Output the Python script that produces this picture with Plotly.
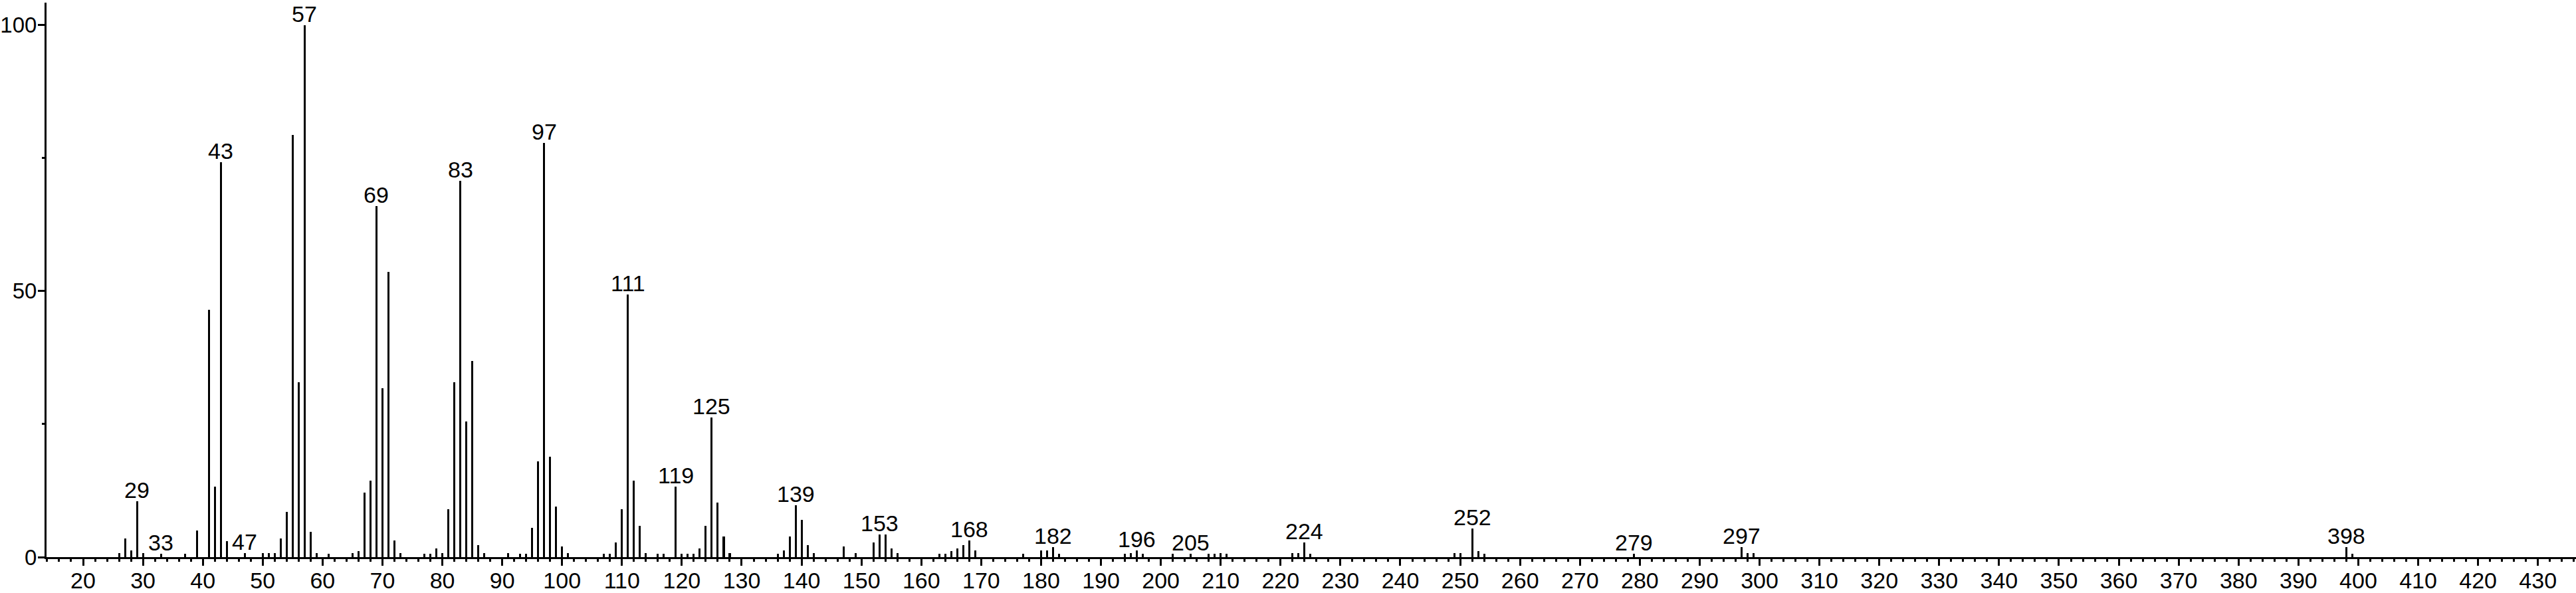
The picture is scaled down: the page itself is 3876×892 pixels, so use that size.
import plotly.graph_objects as go

mz = [26, 27, 28, 29, 30, 33, 37, 39, 41, 42, 43, 44, 47, 50, 51, 52, 53, 54, 55, 56, 57, 58, 59, 61,
      65, 66, 67, 68, 69, 70, 71, 72, 73, 77, 78, 79, 80, 81, 82, 83, 84, 85, 86, 87, 91, 93, 94,
      95, 96, 97, 98, 99, 100, 101, 107, 108, 109, 110, 111, 112, 113, 114, 116, 117, 119, 120,
      121, 122, 123, 124, 125, 126, 127, 128, 136, 137, 138, 139, 140, 141, 142, 147, 149, 152,
      153, 154, 155, 156, 163, 164, 165, 166, 167, 168, 169, 177, 180, 181, 182, 183, 194, 195,
      196, 197, 202, 205, 208, 209, 210, 211, 222, 223, 224, 225, 249, 250, 252, 253, 254, 279,
      297, 298, 299, 398, 399]
intensity = [0.7, 3.5, 1.2, 10.5, 0.7, 0.6, 0.6, 5.0, 46.5, 13.2, 74.2, 3.0, 0.7, 0.7, 0.7, 0.7,
             3.5, 8.5, 79.4, 32.8, 100.0, 4.7, 0.7, 0.6,
             0.7, 1.1, 12.1, 14.4, 66.0, 31.7, 53.6, 3.1, 0.7, 0.6, 0.6, 1.6, 0.7, 9.0, 32.8, 70.7,
             25.5, 36.9, 2.3, 0.7, 0.7, 0.6, 0.6,
             5.5, 18.0, 77.8, 18.9, 9.5, 2.0, 0.7, 0.6, 0.6, 2.8, 9.0, 49.3, 14.4, 5.9, 0.7, 0.6,
             0.6, 13.2, 0.6,
             0.6, 0.6, 1.6, 5.9, 26.2, 10.2, 3.9, 0.7, 0.6, 1.3, 3.9, 9.8, 7.0, 2.3, 0.7, 2.0, 0.7,
             2.7,
             4.3, 4.3, 1.6, 0.7, 0.6, 0.6, 1.1, 1.6, 2.3, 3.1, 1.3, 0.6, 1.2, 1.2, 1.9, 0.6, 0.6,
             0.75,
             1.2, 0.6, 0.6, 0.6, 0.6, 0.6, 0.7, 0.6, 0.75, 0.75, 2.7, 0.6, 0.75, 0.75, 5.4, 1.1,
             0.6, 0.6,
             1.9, 0.75, 0.75, 1.9, 0.6]
labeled_peaks = [29, 33, 43, 47, 57, 69, 83, 97, 111, 119, 125, 139, 153, 168, 182, 196, 205,
                 224, 252, 279, 297, 398]
x_tick_values = list(range(20, 431, 10))
y_tick_values = [0, 50, 100]
y_minor_values = [25, 75]

FONT = "Arial, Liberation Sans, Helvetica, sans-serif"
FS = 34
YFS = 33
X_RANGE = [13.895, 436.36]
Y_RANGE = [0, 104.2]

fig = go.Figure()
fig.add_trace(go.Bar(x=mz, y=intensity, width=0.34, marker=dict(color="black", line=dict(width=0)),
                     hoverinfo="x+y"))
# empty trace so the overlay axes (long major ticks, minor ticks) are drawn
fig.add_trace(go.Scatter(x=[], y=[], xaxis="x2", yaxis="y2", hoverinfo="skip", showlegend=False))

lookup = dict(zip(mz, intensity))
for p in labeled_peaks:
    fig.add_annotation(x=p, y=lookup[p], text=str(p), showarrow=False, yanchor="bottom",
                       xanchor="center", yshift=-4, font=dict(family=FONT, size=FS, color="black"))

fig.update_layout(
    width=3876, height=892,
    margin=dict(l=70, r=0, t=4, b=54, pad=0),
    paper_bgcolor="white", plot_bgcolor="white",
    showlegend=False, bargap=0,
    font=dict(family=FONT, size=FS, color="black"),
    xaxis=dict(range=X_RANGE, tickvals=x_tick_values, ticks="outside", ticklen=3,
               tickwidth=3, tickcolor="black", showline=True, linewidth=3, linecolor="black",
               showgrid=False, zeroline=False, automargin=False,
               tickfont=dict(family=FONT, size=FS, color="black")),
    xaxis2=dict(range=X_RANGE, overlaying="x", side="bottom", tickvals=x_tick_values,
                ticks="outside", ticklen=12, tickwidth=3, tickcolor="black", automargin=False,
                showticklabels=False, showline=False, showgrid=False, zeroline=False,
                minor=dict(dtick=2, tick0=0, ticks="outside", ticklen=6, tickwidth=3,
                           tickcolor="black", showgrid=False)),
    yaxis=dict(range=Y_RANGE, tickvals=y_tick_values, ticks="outside", ticklen=5,
               tickwidth=3, tickcolor="black", showline=True, linewidth=3, linecolor="black",
               showgrid=False, zeroline=False, automargin=False,
               tickfont=dict(family=FONT, size=YFS, color="black")),
    yaxis2=dict(range=Y_RANGE, overlaying="y", side="left", tickvals=y_tick_values,
                ticks="outside", ticklen=12, tickwidth=3, tickcolor="black", automargin=False,
                showticklabels=False, showline=False, showgrid=False, zeroline=False,
                minor=dict(tickvals=y_minor_values, ticks="outside", ticklen=6, tickwidth=3,
                           tickcolor="black", showgrid=False)),
)

fig.write_html("out.html", config={"displayModeBar": False})

with open("out.html", "r", encoding="utf-8") as f:
    html = f.read()
html = html.replace("<head>", "<head><style>html,body{margin:0;padding:0;overflow:hidden;}</style>", 1)
with open("out.html", "w", encoding="utf-8") as f:
    f.write(html)
